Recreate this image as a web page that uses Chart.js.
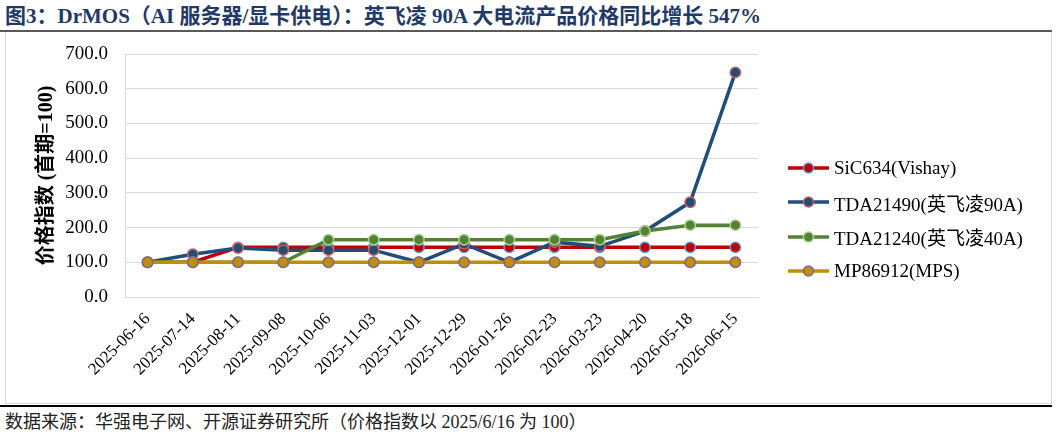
<!DOCTYPE html>
<html>
<head>
<meta charset="utf-8">
<script src="https://cdn.jsdelivr.net/npm/chart.js@4.4.1/dist/chart.umd.min.js"></script>
<style>
    body { margin: 0; background: #fff; width: 1057px; height: 437px; position: relative; overflow: hidden; }
    #title { position: absolute; left: 5px; top: 3px; font: bold 21px "Liberation Serif", "Noto Sans CJK SC", serif; color: #1f3a68; white-space: nowrap; line-height: 26px; }
    #topline { position: absolute; left: 0; top: 30px; width: 1052px; height: 2px; background: #595959; }
    #frame { position: absolute; left: 5px; top: 32px; width: 1047px; height: 372px; box-sizing: border-box; border: 1px solid #d9d9d9; border-top: none; }
    #chart { position: absolute; left: 0; top: 0; }
    #botline { position: absolute; left: 0; top: 405px; width: 1052px; height: 2px; background: #000; }
    #source { position: absolute; left: 5px; top: 411px; font: 18px "Liberation Serif", "Noto Sans CJK SC", serif; color: #222; white-space: nowrap; line-height: 22px; }
    #legend { position: absolute; left: 788px; top: 151px; font: 19px "Liberation Serif", "Noto Sans CJK SC", serif; color: #000; }
    #legend .item { height: 34.3px; display: flex; align-items: center; white-space: nowrap; }
    #legend canvas { margin-right: 5px; }
</style>
</head>
<body>
<div id="title">图3：DrMOS（AI 服务器/显卡供电）：英飞凌 90A 大电流产品价格同比增长 547%</div>
<div id="topline"></div>
<div id="frame"><canvas id="chart" width="1045" height="371"></canvas></div>
<div id="legend"></div>
<div id="botline"></div>
<div id="source">数据来源：华强电子网、开源证券研究所（价格指数以 2025/6/16 为 100）</div>
<script>
const dates = ['2025-06-16', '2025-07-14', '2025-08-11', '2025-09-08', '2025-10-06', '2025-11-03', '2025-12-01',
    '2025-12-29', '2026-01-26', '2026-02-23', '2026-03-23', '2026-04-20', '2026-05-18', '2026-06-15'];
const sic634 = [100, 100, 143, 143, 143, 143, 143, 143, 143, 143, 143, 143, 143, 143];
const tda21490 = [100, 123, 141, 135, 135, 135, 100, 153, 100, 158, 146, 190, 273, 647];
const tda21240 = [100, 100, 100, 100, 165, 165, 165, 165, 165, 165, 165, 190, 207, 207];
const mp86912 = [100, 100, 100, 100, 100, 100, 100, 100, 100, 100, 100, 100, 100, 100];
const yTicks = [0, 100, 200, 300, 400, 500, 600, 700];

const serif = '"Liberation Serif", "Noto Sans CJK SC", serif';

// small line + dot sample for the legend
function legend_icon(line, fill, border) {
    const c = document.createElement('canvas');
    c.width = 41;
    c.height = 14;
    const g = c.getContext('2d');
    g.strokeStyle = line;
    g.lineWidth = 3.5;
    g.beginPath();
    g.moveTo(0, 7);
    g.lineTo(41, 7);
    g.stroke();
    g.beginPath();
    g.arc(20.5, 7, 5, 0, Math.PI * 2);
    g.fillStyle = fill;
    g.fill();
    g.lineWidth = 1.5;
    g.strokeStyle = border;
    g.stroke();
    return c;
}

function series(label, data, color, border, order) {
    return {
        label: label,
        data: data,
        borderColor: color,
        backgroundColor: color,
        borderWidth: 3.5,
        pointRadius: 5.2,
        pointBorderWidth: 1.5,
        pointBackgroundColor: color,
        pointBorderColor: border,
        tension: 0,
        order: order
    };
}

const datasets = [
    series('SiC634(Vishay)', sic634, '#c00000', '#5b9bd5', 4),
    series('TDA21490(英飞凌90A)', tda21490, '#1f4e79', '#d0605e', 3),
    series('TDA21240(英飞凌40A)', tda21240, '#548235', '#a9d18e', 2),
    series('MP86912(MPS)', mp86912, '#bf9000', '#8064a2', 1)
];

const chart = new Chart(document.getElementById('chart'), {
    type: 'line',
    data: {
        labels: dates,
        datasets: datasets
    },
    options: {
        responsive: false,
        animation: false,
        devicePixelRatio: 1,
        layout: {
            padding: { top: 22, right: 293, bottom: 0, left: 0 }
        },
        plugins: {
            tooltip: { enabled: false },
            legend: { display: false }
        },
        scales: {
            x: {
                offset: true,
                grid: { display: false },
                border: { display: true, color: '#d9d9d9', width: 1 },
                ticks: {
                    autoSkip: false,
                    minRotation: 45,
                    maxRotation: 45,
                    padding: 4,
                    color: '#000',
                    font: { family: serif, size: 17 }
                },
                afterFit: function(s) { s.height = 106; }
            },
            y: {
                min: 0,
                max: 700,
                afterBuildTicks: function(s) {
                    s.ticks = yTicks.map(function(v) { return { value: v }; });
                },
                // invisible tick marks keep the labels off the axis without extra top padding
                grid: { color: '#d9d9d9', lineWidth: 1, drawTicks: true, tickLength: 11, tickColor: 'rgba(0,0,0,0)' },
                border: { display: true, color: '#d9d9d9', width: 1 },
                ticks: {
                    padding: 6,
                    color: '#000',
                    font: { family: serif, size: 19 },
                    callback: function(v) { return v.toFixed(1); }
                },
                title: {
                    display: true,
                    text: '价格指数 (首期=100)',
                    color: '#000',
                    font: { family: serif, size: 20, weight: 'bold' },
                    padding: { top: 29, bottom: 0 }
                },
                afterFit: function(s) { s.width = 119; }
            }
        }
    }
});

// html legend, built from the datasets
const legendBox = document.getElementById('legend');
datasets.forEach(function(ds) {
    const item = document.createElement('div');
    item.className = 'item';
    item.appendChild(legend_icon(ds.borderColor, ds.pointBackgroundColor, ds.pointBorderColor));
    const txt = document.createElement('span');
    txt.textContent = ds.label;
    item.appendChild(txt);
    legendBox.appendChild(item);
});
</script>
</body>
</html>
